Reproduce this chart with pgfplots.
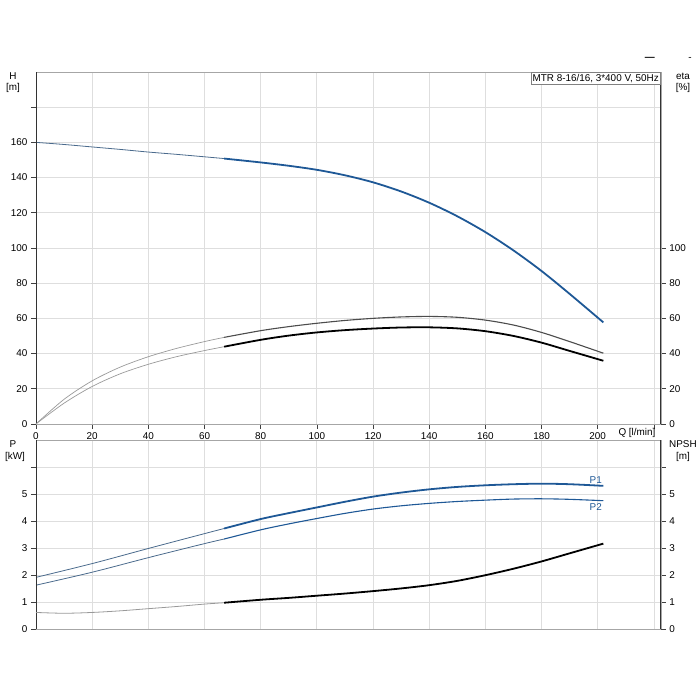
\documentclass[border=0pt]{standalone}
\usepackage{pgfplots}
\pgfplotsset{compat=1.18}
\usepackage{fontspec}
\setmainfont{Liberation Sans}
\definecolor{gblue}{RGB}{30,88,150}
\definecolor{gridc}{RGB}{222,222,222}
\begin{document}
\begin{tikzpicture}[x=1pt,y=1pt]
\path (0,0) rectangle (700,700);
\pgfplotsset{
 every axis/.append style={font=\fontsize{9.9}{11}\selectfont, scale only axis, width=625pt, anchor=south west,
   /pgf/number format/assume math mode=true, tick align=outside, major tick length=5pt,
   tick style={black!75, line width=0.6pt}, xmin=0, xmax=222.5, clip=false,
   axis line style={gray!70, line width=0.8pt}},
 thinblue/.style={gblue!55!gray, line width=0.8pt, smooth},
 thickblue/.style={gblue, line width=1.8pt, smooth},
}
% ---------- top: H ----------
\begin{axis}[at={(36pt,276pt)}, height=352pt, ymin=0, ymax=200, tick pos=left,
  xtick={0,20,...,220}, xticklabels={0,20,40,60,80,100,120,140,160,180,200,{}},
  ytick={0,20,...,180}, yticklabels={0,20,40,60,80,100,120,140,160,{}},
  grid=major, grid style={gridc, line width=0.8pt}]
\addplot[thinblue] coordinates {(0,160) (10,158.8) (20,157.4) (30,156) (40,154.5) (50,153.2) (60,151.8) (67,150.8)};
\addplot[thickblue] coordinates {(67,150.8) (80,148.6) (90,146.7) (100,144.4) (110,141.3) (120,137.3) (130,132.1) (140,125.7) (150,118.0) (160,109.0) (170,98.6) (180,86.9) (190,73.9) (202,57.7)};
\draw[black!80, line width=0.9pt] (rel axis cs:0,0) -- (rel axis cs:0,1);
\draw[black!80, line width=0.9pt] (rel axis cs:1,0) -- (rel axis cs:1,1);
\node[anchor=north east, draw=gray, fill=white, inner sep=1.8pt, line width=0.6pt] at (rel axis cs:1,1) {MTR 8-16/16, 3*400 V, 50Hz};
\end{axis}
% ---------- top: eta ----------
\begin{axis}[at={(36pt,276pt)}, height=352pt, ymin=0, ymax=200,
  axis y line*=right, axis x line=none, ytick={0,20,...,100}]
\addplot[gray!80, line width=0.7pt, smooth] coordinates {(0,0) (10,14) (20,24.5) (30,32.3) (40,38.2) (50,42.9) (60,46.8) (67,49.2)};
\addplot[black!70, line width=1.1pt, smooth] coordinates {(67,49.2) (80,53.0) (90,55.3) (100,57.2) (110,58.8) (120,60.0) (130,60.8) (140,61.1) (150,60.6) (160,59.0) (170,56.2) (180,52.0) (190,46.8) (202,40.2)};
\addplot[gray!80, line width=0.7pt, smooth] coordinates {(0,0) (10,11.8) (20,21.3) (30,28.5) (40,33.9) (50,38.2) (60,41.7) (67,43.9)};
\addplot[black, line width=1.8pt, smooth] coordinates {(67,43.9) (80,47.8) (90,50.2) (100,52.0) (110,53.3) (120,54.2) (130,54.8) (140,54.9) (150,54.3) (160,52.7) (170,50.0) (180,46.2) (190,41.5) (202,35.9)};
\end{axis}
% ---------- bottom: P ----------
\begin{axis}[at={(36pt,71pt)}, height=189pt, ymin=0, ymax=7, ytick pos=left,
  xtick={0,20,...,220}, xticklabels={}, xtick style={draw=none},
  ytick={0,1,...,6}, yticklabels={0,1,2,3,4,5,{}},
  grid=major, grid style={gridc, line width=0.8pt}]
\addplot[thinblue] coordinates {(0,1.91) (20,2.42) (40,2.98) (60,3.53) (67,3.72)};
\addplot[thickblue] coordinates {(67,3.72) (80,4.07) (90,4.29) (100,4.50) (110,4.71) (120,4.90) (130,5.05) (140,5.17) (150,5.26) (160,5.32) (170,5.36) (180,5.38) (190,5.36) (202,5.30)};
\addplot[thinblue] coordinates {(0,1.62) (20,2.1) (40,2.64) (60,3.16) (67,3.33)};
\addplot[gblue, line width=1.1pt, smooth] coordinates {(67,3.33) (80,3.67) (90,3.89) (100,4.09) (110,4.28) (120,4.44) (130,4.56) (140,4.65) (150,4.72) (160,4.77) (170,4.81) (180,4.82) (190,4.80) (202,4.75)};
\node[gblue] at (axis cs:199.3,5.52) {P1};
\node[gblue] at (axis cs:199.3,4.51) {P2};
\draw[black!80, line width=0.9pt] (rel axis cs:0,0) -- (rel axis cs:0,1);
\draw[black!80, line width=0.9pt] (rel axis cs:1,0) -- (rel axis cs:1,1);
\end{axis}
% ---------- bottom: NPSH ----------
\begin{axis}[at={(36pt,71pt)}, height=189pt, ymin=0, ymax=7,
  axis y line*=right, axis x line=none, ytick={0,1,...,6}, yticklabels={0,1,2,3,4,5,{}}]
\addplot[gray!80, line width=0.8pt, smooth] coordinates {(0,0.61) (10,0.58) (20,0.61) (30,0.67) (40,0.75) (50,0.83) (60,0.92) (67,0.97)};
\addplot[black, line width=1.8pt, smooth] coordinates {(67,0.97) (80,1.08) (90,1.15) (100,1.23) (110,1.31) (120,1.40) (130,1.50) (140,1.62) (150,1.78) (160,1.99) (170,2.23) (180,2.50) (190,2.80) (202,3.16)};
\end{axis}
% ---------- labels ----------
\begin{scope}[font=\fontsize{9.9}{11}\selectfont]
\node at (13,624) {H};
\node at (13,612) {[m]};
\node at (683,624) {eta};
\node at (683,612) {[\%]};
\node at (13,256) {P};
\node at (15,243) {[kW]};
\node at (683,256) {NPSH};
\node at (683,243) {[m]};
\node[anchor=east] at (659,267) {Q [l/min]};
\node at (650,641) {\bfseries —};
\node at (690,641) {-};
\end{scope}
\end{tikzpicture}
\end{document}
